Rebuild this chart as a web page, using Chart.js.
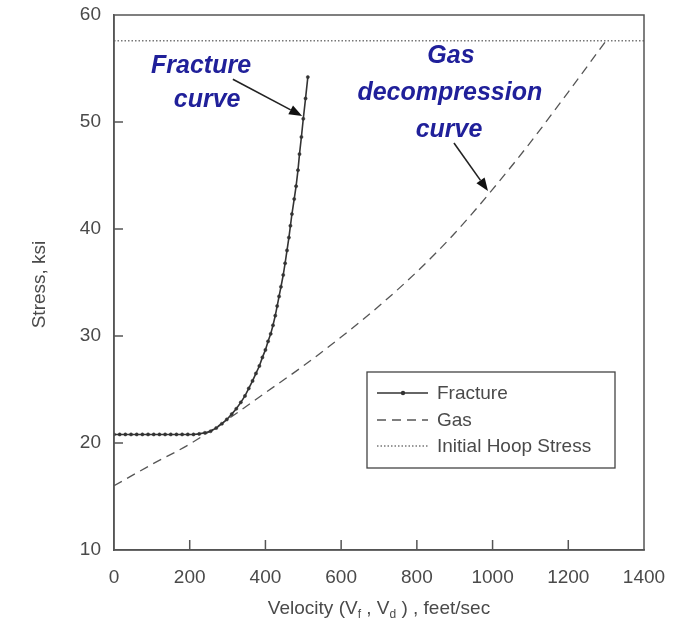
<!DOCTYPE html>
<html>
<head>
<meta charset="utf-8">
<script src="https://cdn.jsdelivr.net/npm/chart.js@4"></script>
<style>
html,body{margin:0;padding:0;background:#fff;}
#wrap{width:683px;height:625px;}
</style>
</head>
<body>
<div id="wrap"><canvas id="c" width="683" height="625"></canvas></div>
<script>
// ---- data ----
const xTicks = [0, 200, 400, 600, 800, 1000, 1200, 1400];
const yTicks = [10, 20, 30, 40, 50, 60];

const fracV = [0, 15, 30, 45, 60, 75, 90, 105, 120, 135, 150, 165, 180, 195, 210, 225, 240, 255, 270, 285, 298, 311, 323, 335, 346, 356, 366, 375, 384, 392, 400, 407, 414, 420, 426, 431, 436, 441, 447, 452, 457, 462, 466, 470, 476, 481, 486, 490, 495, 500, 506, 512];
const fracS = [20.8, 20.8, 20.8, 20.8, 20.8, 20.8, 20.8, 20.8, 20.8, 20.8, 20.8, 20.8, 20.8, 20.8, 20.8, 20.85, 20.95, 21.1, 21.4, 21.8, 22.2, 22.7, 23.2, 23.8, 24.4, 25.1, 25.8, 26.5, 27.2, 28.0, 28.7, 29.5, 30.2, 31.0, 31.9, 32.8, 33.7, 34.6, 35.7, 36.8, 38.0, 39.2, 40.3, 41.4, 42.8, 44.0, 45.5, 47.0, 48.6, 50.3, 52.2, 54.2];

const gasV = [0, 100, 200, 300, 400, 500, 600, 700, 800, 900, 1000, 1100, 1200, 1300];
const gasS = [16.0, 18.0, 19.9, 22.2, 24.7, 27.2, 29.9, 32.8, 36.0, 39.6, 43.7, 48.1, 52.8, 57.6];

const hoopV = [0, 1400];
const hoopS = [57.6, 57.6];

const seriesNames = ['Fracture', 'Gas', 'Initial Hoop Stress'];

// annotation texts (positions in data units)
const notes = [
  {text: 'Fracture', v: 230, s: 54.6},
  {text: 'curve', v: 246, s: 51.4},
  {text: 'Gas', v: 890, s: 55.5},
  {text: 'decompression', v: 887, s: 52.06},
  {text: 'curve', v: 885, s: 48.6}
];
const arrows = [
  {v0: 314, s0: 54.0, v1: 497, s1: 50.56},
  {v0: 898, s0: 48.04, v1: 988, s1: 43.55}
];

const toXY = (xs, ys) => xs.map((x, i) => ({x: x, y: ys[i]}));
const FONT = "'Liberation Sans', Arial, Helvetica, sans-serif";
const TXT = '#4a4a4a';
const AX = '#555';

const framePlugin = {
  id: 'frame',
  afterDraw(chart) {
    const {ctx, chartArea: a, scales} = chart;
    const xs = scales.x, ys = scales.y;
    ctx.save();
    // frame
    ctx.strokeStyle = AX; ctx.lineWidth = 1.5;
    ctx.strokeRect(a.left, a.top, a.right - a.left, a.bottom - a.top);
    // inward ticks
    ctx.lineWidth = 1.5;
    xTicks.forEach(t => {
      if (t === 0 || t === 1400) return;
      const px = xs.getPixelForValue(t);
      ctx.beginPath(); ctx.moveTo(px, a.bottom); ctx.lineTo(px, a.bottom - 10); ctx.stroke();
    });
    yTicks.forEach(t => {
      if (t === 10 || t === 60) return;
      const py = ys.getPixelForValue(t);
      ctx.beginPath(); ctx.moveTo(a.left, py); ctx.lineTo(a.left + 9, py); ctx.stroke();
    });

    // y title
    ctx.fillStyle = TXT;
    ctx.font = '19px ' + FONT;
    ctx.textAlign = 'center'; ctx.textBaseline = 'middle';
    ctx.save();
    ctx.translate(40, (a.top + a.bottom) / 2 + 2);
    ctx.rotate(-Math.PI / 2);
    ctx.fillText('Stress, ksi', 0, 0);
    ctx.restore();

    // x title with subscripts
    const parts = [
      ['Velocity (V', false], ['f', true], [' , V', false], ['d', true], [' ) , feet/sec', false]
    ];
    const big = '19px ' + FONT, small = '12px ' + FONT;
    let w = 0;
    parts.forEach(p => { ctx.font = p[1] ? small : big; w += ctx.measureText(p[0]).width; });
    let x = (a.left + a.right) / 2 - w / 2;
    const base = 614;
    ctx.textAlign = 'left'; ctx.textBaseline = 'alphabetic';
    parts.forEach(p => {
      ctx.font = p[1] ? small : big;
      ctx.fillText(p[0], x, p[1] ? base + 4 : base);
      x += ctx.measureText(p[0]).width;
    });

    // legend
    const ds = chart.data.datasets;
    const bx = 367, by = 372, bw = 248, bh = 96;
    ctx.fillStyle = '#fff';
    ctx.fillRect(bx, by, bw, bh);
    ctx.strokeStyle = '#444'; ctx.lineWidth = 1.3;
    ctx.strokeRect(bx, by, bw, bh);
    const rows = [393, 420, 446];
    ds.forEach((d, i) => {
      const y = rows[i];
      ctx.save();
      ctx.strokeStyle = d.borderColor; ctx.lineWidth = d.borderWidth;
      ctx.setLineDash(d.borderDash || []);
      ctx.beginPath(); ctx.moveTo(377, y); ctx.lineTo(428, y); ctx.stroke();
      ctx.restore();
      if (d.pointRadius > 0) {
        ctx.fillStyle = d.pointBackgroundColor;
        ctx.beginPath(); ctx.arc(403, y, 2.2, 0, Math.PI * 2); ctx.fill();
      }
      ctx.fillStyle = TXT;
      ctx.font = '19px ' + FONT;
      ctx.textAlign = 'left'; ctx.textBaseline = 'middle';
      ctx.fillText(d.label, 437, y + 1);
    });

    // annotations
    ctx.fillStyle = '#20209a';
    ctx.font = 'italic bold 25px ' + FONT;
    ctx.textAlign = 'center'; ctx.textBaseline = 'alphabetic';
    notes.forEach(n => ctx.fillText(n.text, xs.getPixelForValue(n.v), ys.getPixelForValue(n.s)));

    ctx.strokeStyle = '#222'; ctx.fillStyle = '#111'; ctx.lineWidth = 1.6;
    arrows.forEach(ar => {
      const x0 = xs.getPixelForValue(ar.v0), y0 = ys.getPixelForValue(ar.s0);
      const x1 = xs.getPixelForValue(ar.v1), y1 = ys.getPixelForValue(ar.s1);
      const ang = Math.atan2(y1 - y0, x1 - x0);
      const L = 13, W = 5;
      const bxp = x1 - L * Math.cos(ang), byp = y1 - L * Math.sin(ang);
      ctx.beginPath(); ctx.moveTo(x0, y0); ctx.lineTo(bxp, byp); ctx.stroke();
      ctx.beginPath();
      ctx.moveTo(x1, y1);
      ctx.lineTo(bxp + W * Math.sin(ang), byp - W * Math.cos(ang));
      ctx.lineTo(bxp - W * Math.sin(ang), byp + W * Math.cos(ang));
      ctx.closePath(); ctx.fill();
    });
    ctx.restore();
  }
};

new Chart(document.getElementById('c'), {
  type: 'scatter',
  data: {
    datasets: [
      {
        label: seriesNames[0], data: toXY(fracV, fracS), showLine: true,
        borderColor: '#333', borderWidth: 1.6, pointRadius: 1.6,
        pointBackgroundColor: '#333', pointBorderColor: '#333', pointBorderWidth: 0.5,
        tension: 0
      },
      {
        label: seriesNames[1], data: toXY(gasV, gasS), showLine: true,
        borderColor: '#555', borderWidth: 1.3, borderDash: [9, 6], pointRadius: 0,
        cubicInterpolationMode: 'monotone'
      },
      {
        label: seriesNames[2], data: toXY(hoopV, hoopS), showLine: true,
        borderColor: '#777', borderWidth: 1.4, borderDash: [1.5, 2], pointRadius: 0
      }
    ]
  },
  options: {
    responsive: false,
    animation: false,
    layout: {padding: {left: 0, top: 15, right: 39, bottom: 0}},
    plugins: {legend: {display: false}, tooltip: {enabled: false}},
    scales: {
      x: {
        type: 'linear', min: 0, max: 1400,
        afterFit: s => { s.height = 75; s.paddingLeft = 0; s.paddingRight = 0; },
        afterBuildTicks: s => { s.ticks = xTicks.map(v => ({value: v})); },
        ticks: {color: TXT, font: {family: FONT, size: 19}, padding: 16, maxRotation: 0, callback: v => String(v)},
        grid: {drawOnChartArea: false, drawTicks: false},
        border: {color: AX, width: 1.5}
      },
      y: {
        type: 'linear', min: 10, max: 60,
        afterFit: s => { s.width = 114; s.paddingTop = 0; s.paddingBottom = 0; },
        afterBuildTicks: s => { s.ticks = yTicks.map(v => ({value: v})); },
        ticks: {color: TXT, font: {family: FONT, size: 19}, padding: 13, callback: v => String(v)},
        grid: {drawOnChartArea: false, drawTicks: false},
        border: {color: AX, width: 1.5}
      }
    }
  },
  plugins: [framePlugin]
});
</script>
</body>
</html>
